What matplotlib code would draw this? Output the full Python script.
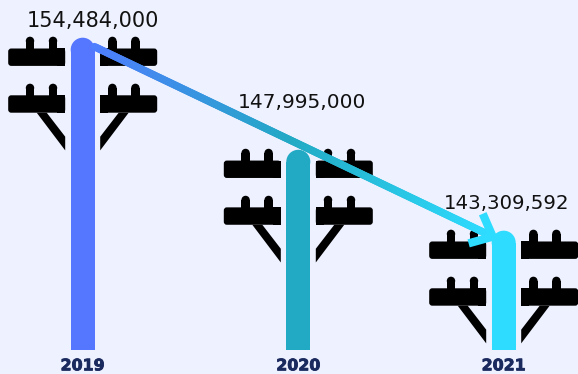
import matplotlib
matplotlib.use("Agg")
import matplotlib.pyplot as plt
import matplotlib.patheffects as pe
import numpy as np
from matplotlib.collections import LineCollection
from matplotlib.colors import LinearSegmentedColormap
from matplotlib.patches import Circle, FancyBboxPatch, Polygon, Rectangle
from matplotlib.transforms import Affine2D, IdentityTransform

years = ["2019", "2020", "2021"]
values = [154484000, 147995000, 143309592]
value_labels = ["154,484,000", "147,995,000", "143,309,592"]
bar_colors = ["#5577FF", "#22AAC4", "#2EDCFF"]

BG = "#EEF1FF"
PX_W, PX_H = 578, 374
pole_x = [82.7, 298.3, 503.7]
label_dx = [10, 4, 2.5]
label_dy = [-19, -49.5, -29.5]
label_sizes = [15, 14.5, 14.2]
PX_PER_VALUE = 17.27 / 1e6
BASE_PX, TOP_PX = 350, 37.7

fig = plt.figure(figsize=(PX_W / 100, PX_H / 100), dpi=100, facecolor=BG)
ax = fig.add_axes([0, 1 - BASE_PX / PX_H, 1, BASE_PX / PX_H])
ax.set_facecolor(BG)
base = values[0] - (BASE_PX - TOP_PX) / PX_PER_VALUE
ax.set_xlim(0, PX_W)
ax.set_ylim(base, base + BASE_PX / PX_PER_VALUE)
for s in ax.spines.values():
    s.set_visible(False)
ax.set_yticks([])
ax.set_xticks(pole_x)
ax.set_xticklabels(years, fontfamily="DejaVu Sans", fontweight="bold", fontsize=11.4, color="#1B2A5E",
                   path_effects=[pe.withStroke(linewidth=0.6, foreground="#1B2A5E")])
ax.tick_params(axis="x", length=0, pad=6)

R = 12
ax.bar(pole_x, [v - R / PX_PER_VALUE - base for v in values], bottom=base, width=24,
       color=bar_colors, zorder=2)


def px_transform(cx, v):
    dx, dy = ax.transData.transform((cx, v))
    return Affine2D().scale(1, -1).translate(dx, dy)


def add(p, tr, z=1, c="black"):
    p.set_transform(tr)
    p.set_facecolor(c)
    p.set_edgecolor("none")
    p.set_clip_on(False)
    p.set_zorder(z)
    ax.add_patch(p)


def arm(tr, sign, top, peg_top):
    x0, x1 = (17.5, 74.5) if sign > 0 else (-74.5, -17.5)
    h = 17.4
    add(FancyBboxPatch((x0 + 3, top + 3), x1 - x0 - 6, h - 6, boxstyle="round,pad=3"), tr)
    inner = x0 if sign > 0 else x1 - 8
    add(Rectangle((inner, top), 8, h), tr)
    for c in (29.7, 52.7):
        xc = sign * c
        add(Rectangle((xc - 4.2, peg_top + 4.2), 8.4, top - peg_top), tr)
        add(Circle((xc, peg_top + 4.2), 4.2), tr)


for cx, v, col, lab, ldx, ldy, fs in zip(pole_x, values, bar_colors, value_labels, label_dx, label_dy, label_sizes):
    tr = px_transform(cx, v)
    add(Circle((0, R), R), tr, z=2, c=col)
    for sign in (-1, 1):
        arm(tr, sign, 10.8, -1)
        arm(tr, sign, 57.6, 46)
        add(Polygon([(sign * 46, 75), (sign * 36, 75), (sign * 17.5, 99), (sign * 17.5, 112.7)]), tr)
    ax.annotate(lab, (cx, v), xytext=(ldx * 0.72, -ldy * 0.72), textcoords="offset points",
                ha="center", va="center_baseline", fontfamily="DejaVu Sans", fontsize=fs, color="#111111", zorder=5)

# gradient trend arrow, from the first pole top to the last
start = ax.transData.transform((pole_x[0], values[0])) + np.array([10.3, -8.3])
end = ax.transData.transform((pole_x[2], values[2])) + np.array([-11, -6])
d = (end - start) / np.linalg.norm(end - start)
ts = np.linspace(0, 1, 241)
pts = (start + d * 1.5) + np.outer(ts, end - start - d * 1.5)
segs = np.stack([pts[:-1], pts[1:]], axis=1)
cmap = LinearSegmentedColormap.from_list("g", ["#4F7DFF", "#22AAC4", "#2EDCFF"])
lw = 7.5 * 72 / 100
lc = LineCollection(segs, colors=cmap((ts[:-1] + ts[1:]) / 2), linewidths=lw,
                    transform=IdentityTransform(), zorder=4, capstyle="round", clip_on=False)
ax.add_collection(lc, autolim=False)
for ang in (41, -41):
    a = np.deg2rad(ang)
    rot = np.array([[np.cos(a), -np.sin(a)], [np.sin(a), np.cos(a)]])
    tip = end - rot @ d * 25
    ax.plot([tip[0], end[0]], [tip[1], end[1]], color="#2EDCFF", lw=lw * 1.1, transform=IdentityTransform(),
            solid_capstyle="butt", zorder=4, clip_on=False)

fig.savefig("out.png", dpi=100, facecolor=BG)
